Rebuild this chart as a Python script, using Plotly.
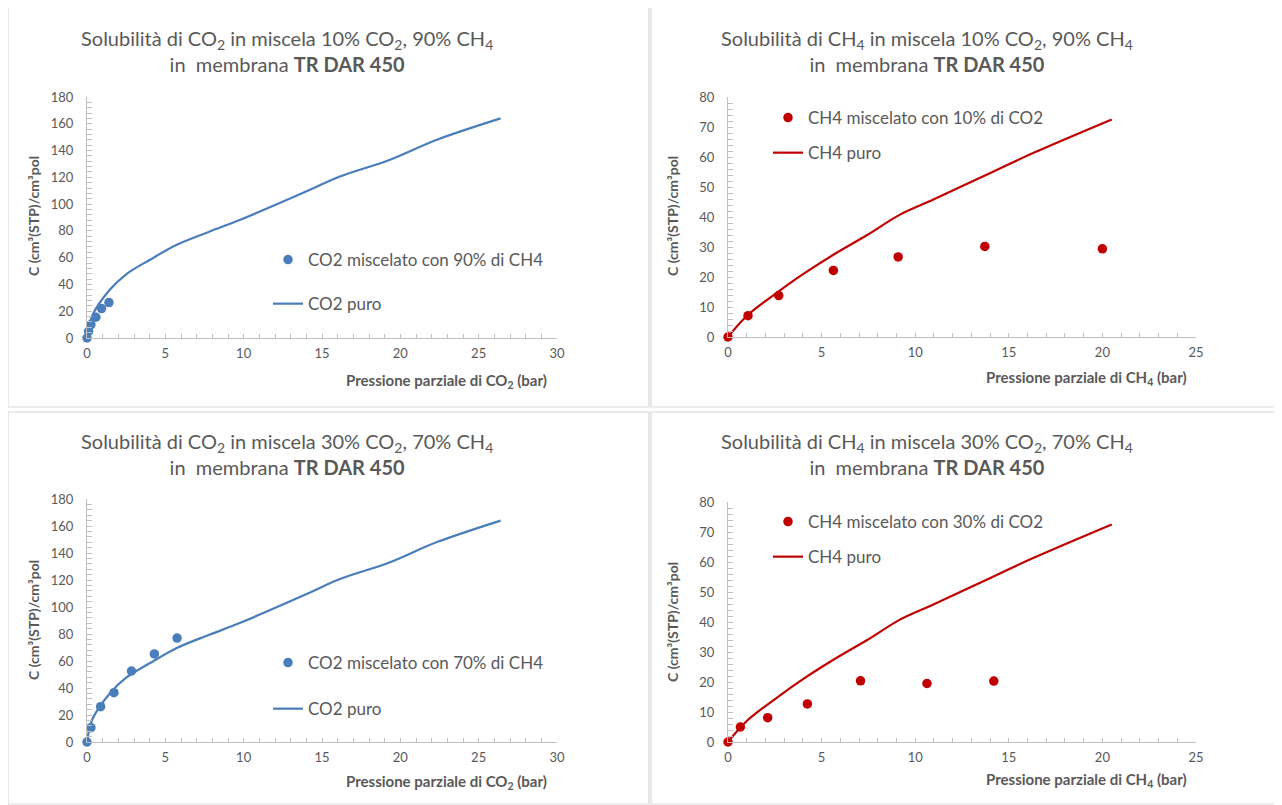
import plotly.graph_objects as go

# ---------------- data ----------------
co2_pure_x = [0, 0.35, 1.44, 2.5, 4.0, 5.7, 7.8, 9.74, 14.2, 16.1, 19.3, 22.3, 26.4]
co2_pure_y = [0, 17.0, 35.8, 47.6, 58.3, 69.5, 79.4, 88.1, 110.5, 120.5, 133.0, 147.9, 164.0]

co2_mix90_x = [0, 0.1, 0.25, 0.57, 0.93, 1.4]
co2_mix90_y = [0, 5.0, 10.0, 15.5, 22.0, 26.5]

co2_mix70_x = [0, 0.25, 0.87, 1.72, 2.84, 4.3, 5.75]
co2_mix70_y = [0, 10.6, 26.2, 36.5, 52.6, 65.2, 77.0]

ch4_pure_x = [0, 1.07, 2.71, 3.83, 5.63, 7.41, 9.19, 10.97, 13.64, 16.3, 20.5]
ch4_pure_y = [0, 7.4, 15.2, 20.2, 27.4, 33.9, 40.8, 45.8, 53.6, 61.3, 72.5]

ch4_mix10_x = [0, 1.07, 2.71, 5.63, 9.09, 13.72, 20.0]
ch4_mix10_y = [0, 7.1, 13.8, 22.2, 26.7, 30.2, 29.4]

ch4_mix30_x = [0, 0.66, 2.12, 4.24, 7.08, 10.63, 14.2]
ch4_mix30_y = [0, 5.0, 8.1, 12.7, 20.4, 19.5, 20.3]

titles = [
    "Solubilità di CO<sub>2</sub> in miscela 10% CO<sub>2</sub>, 90% CH<sub>4</sub><br>in  membrana <b>TR DAR 450</b>",
    "Solubilità di CH<sub>4</sub> in miscela 10% CO<sub>2</sub>, 90% CH<sub>4</sub><br>in  membrana <b>TR DAR 450</b>",
    "Solubilità di CO<sub>2</sub> in miscela 30% CO<sub>2</sub>, 70% CH<sub>4</sub><br>in  membrana <b>TR DAR 450</b>",
    "Solubilità di CH<sub>4</sub> in miscela 30% CO<sub>2</sub>, 70% CH<sub>4</sub><br>in  membrana <b>TR DAR 450</b>",
]
xtitles = [
    "<b>Pressione parziale di CO<sub>2</sub> (bar)</b>",
    "<b>Pressione parziale di CH<sub>4</sub> (bar)</b>",
    "<b>Pressione parziale di CO<sub>2</sub> (bar)</b>",
    "<b>Pressione parziale di CH<sub>4</sub> (bar)</b>",
]
ytitle = "<b>C (cm³(STP)/cm³pol</b>"

# ---------------- style ----------------
W, H = 1282, 805
OFF = 8  # page offset of the figure
BLUE = "#4a7ebb"
RED = "#c00000"
GREY_TXT = "#595959"
AX = "#bfbfbf"
FONT = "Lato"

def px(x):
    return (x - OFF) / W

def py(y):
    return 1 - (y - OFF) / H

fig = go.Figure()

panels = [
    ("", (87, 557), (97, 338), [0, 30], [0, 180], 20, 4),
    ("2", (728, 1196), (97, 337), [0, 25], [0, 80], 10, 2),
    ("3", (87, 557), (499, 742), [0, 30], [0, 180], 20, 4),
    ("4", (728, 1196), (502, 742), [0, 25], [0, 80], 10, 2),
]

series = [
    (co2_mix90_x, co2_mix90_y, "CO2 miscelato con 90% di CH4", co2_pure_x, co2_pure_y, "CO2 puro", BLUE),
    (ch4_mix10_x, ch4_mix10_y, "CH4 miscelato con 10% di CO2", ch4_pure_x, ch4_pure_y, "CH4 puro", RED),
    (co2_mix70_x, co2_mix70_y, "CO2 miscelato con 70% di CH4", co2_pure_x, co2_pure_y, "CO2 puro", BLUE),
    (ch4_mix30_x, ch4_mix30_y, "CH4 miscelato con 30% di CO2", ch4_pure_x, ch4_pure_y, "CH4 puro", RED),
]

legend_pos = [(268, 242), (768, 100), (268, 645), (768, 504)]
legend_gap = [19, 10, 21, 10]
title_pos = [(287, 51), (927, 51), (287, 454), (927, 454)]
xt_pos = [(549, 381), (1189, 378), (549, 782), (1189, 780)]
yt_pos = [(33, 216), (672, 216), (33, 620), (672, 622)]
borders = [(8, 7, 649, 407), (651, 7, 1281, 407), (8, 412, 649, 804), (651, 412, 1281, 804)]

layout = {}
for i, (ax, xd, yd, xr, yr, ydt, ymn) in enumerate(panels):
    mx, my, mname, lx, ly, lname, col = series[i]
    leg = "legend" if i == 0 else f"legend{i+1}"
    fig.add_trace(go.Scatter(
        x=lx, y=ly, mode="lines", name=lname,
        line=dict(color=col, width=2.2, shape="spline", smoothing=1.0),
        xaxis="x" + ax, yaxis="y" + ax, legend=leg, legendgroup=f"l{i}",
        legendrank=2,
    ))
    fig.add_trace(go.Scatter(
        x=mx, y=my, mode="markers", name=mname,
        marker=dict(color=col, size=9.5), cliponaxis=False,
        xaxis="x" + ax, yaxis="y" + ax, legend=leg, legendgroup=f"m{i}",
        legendrank=1,
    ))
    layout["xaxis" + ax] = dict(
        domain=[px(xd[0]), px(xd[1])], range=xr, dtick=5, anchor="y" + ax,
        showline=True, linecolor=AX, linewidth=1, showgrid=False, zeroline=False,
        ticks="inside", ticklen=4, tickcolor=AX, automargin=False,
        minor=dict(dtick=1, ticks="inside", ticklen=4, tickcolor=AX, showgrid=False),
        tickfont=dict(family=FONT, size=13, color=GREY_TXT), ticklabelstandoff=3,
    )
    layout["yaxis" + ax] = dict(
        domain=[py(yd[1]), py(yd[0])], range=yr, dtick=ydt, anchor="x" + ax,
        showline=True, linecolor=AX, linewidth=1, showgrid=False, zeroline=False,
        ticks="inside", ticklen=5, tickcolor=AX, automargin=False,
        minor=dict(dtick=ymn, ticks="inside", ticklen=5, tickcolor=AX, showgrid=False),
        tickfont=dict(family=FONT, size=13, color=GREY_TXT), ticklabelstandoff=10,
    )
    lxp, lyp = legend_pos[i]
    layout[leg] = dict(
        x=px(lxp), y=py(lyp), xanchor="left", yanchor="top",
        font=dict(family=FONT, size=17, color=GREY_TXT),
        bgcolor="rgba(0,0,0,0)", traceorder="grouped", tracegroupgap=legend_gap[i],
        itemwidth=30,
    )

fig.update_layout(**layout)

annotations = []
shapes = []
for i in range(4):
    tx, ty = title_pos[i]
    annotations.append(dict(
        text=titles[i], x=px(tx), y=py(ty), xref="paper", yref="paper",
        xanchor="center", yanchor="middle", showarrow=False, align="center",
        font=dict(family=FONT, size=20, color=GREY_TXT),
    ))
    xx, xy = xt_pos[i]
    annotations.append(dict(
        text=xtitles[i], x=px(xx), y=py(xy), xref="paper", yref="paper",
        xanchor="right", yanchor="middle", showarrow=False,
        font=dict(family=FONT, size=15, color=GREY_TXT),
    ))
    yx, yy = yt_pos[i]
    annotations.append(dict(
        text=ytitle, x=px(yx), y=py(yy), xref="paper", yref="paper",
        xanchor="center", yanchor="middle", showarrow=False, textangle=-90,
        font=dict(family=FONT, size=14, color=GREY_TXT),
    ))
    x0, y0, x1, y1 = borders[i]
    shapes.append(dict(
        type="rect", xref="paper", yref="paper",
        x0=px(x0), x1=px(x1), y0=py(y1), y1=py(y0),
        line=dict(color="#d9d9d9", width=1.2), fillcolor="rgba(0,0,0,0)", layer="below",
    ))

fig.update_layout(
    width=W, height=H, margin=dict(l=0, r=0, t=0, b=0, autoexpand=False),
    paper_bgcolor="white", plot_bgcolor="rgba(0,0,0,0)",
    annotations=annotations, shapes=shapes, showlegend=True,
    font=dict(family=FONT, color=GREY_TXT),
)

fig.write_html("out.html")
